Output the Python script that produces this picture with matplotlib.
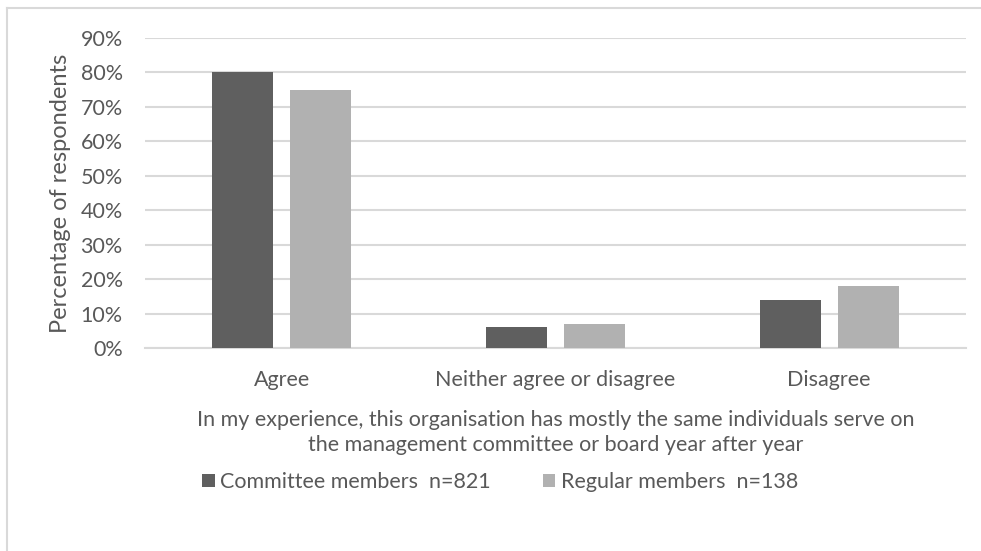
import numpy as np
import matplotlib.pyplot as plt
from matplotlib.lines import Line2D

categories = ['Agree', 'Neither agree or disagree', 'Disagree']
committee = [80, 6, 14]
regular = [75, 7, 18]
series_names = ['Committee members  n=821', 'Regular members  n=138']
yticks = [0, 10, 20, 30, 40, 50, 60, 70, 80, 90]

plt.rcParams['font.family'] = ['Lato', 'DejaVu Sans']
txt = '#595959'

fig = plt.figure(figsize=(9.81, 5.51), dpi=100)
ax = fig.add_axes([145/981, 1 - 348/551, (966-145)/981, (348-38)/551])

x = np.arange(len(categories))
w = 0.223
ax.bar(x - 0.143, committee, w, color='#5f5f5f', label=series_names[0], zorder=3)
ax.bar(x + 0.143, regular, w, color='#b1b1b1', label=series_names[1], zorder=3)

ax.set_xlim(-0.5, 2.5)
ax.set_ylim(0, 90)
ax.set_yticks(yticks)
ax.set_yticklabels([f'{v}%' for v in yticks], fontsize=15.5, color=txt)
ax.set_xticks(x)
ax.set_xticklabels(categories, fontsize=15.5, color=txt)
ax.tick_params(axis='both', length=0)
ax.tick_params(axis='x', pad=16)
ax.tick_params(axis='y', pad=16)
ax.yaxis.grid(True, color='#d9d9d9', linewidth=1.5, zorder=0)
for s in ['top', 'right', 'left']:
    ax.spines[s].set_visible(False)
ax.spines['bottom'].set_color('#d9d9d9')
ax.spines['bottom'].set_linewidth(1.5)

ax.set_ylabel('Percentage of respondents', fontsize=17, color=txt, labelpad=7)
ax.set_xlabel('In my experience, this organisation has mostly the same individuals serve on\n'
              'the management committee or board year after year',
              fontsize=15.5, color=txt, labelpad=14, linespacing=1.35)

fig.legend(loc='center', bbox_to_anchor=(500/981, 1 - 482/551), ncol=2, frameon=False,
           fontsize=15.5, labelcolor=txt, handlelength=0.6, handleheight=0.6,
           handletextpad=0.25, columnspacing=2.4, borderpad=0)

# chart border (top and left visible)
fig.add_artist(Line2D([7/981, 1], [1 - 8/551, 1 - 8/551], color='#d9d9d9', lw=1.5))
fig.add_artist(Line2D([7/981, 7/981], [0, 1 - 8/551], color='#d9d9d9', lw=1.5))

fig.savefig('out.png', dpi=100)
